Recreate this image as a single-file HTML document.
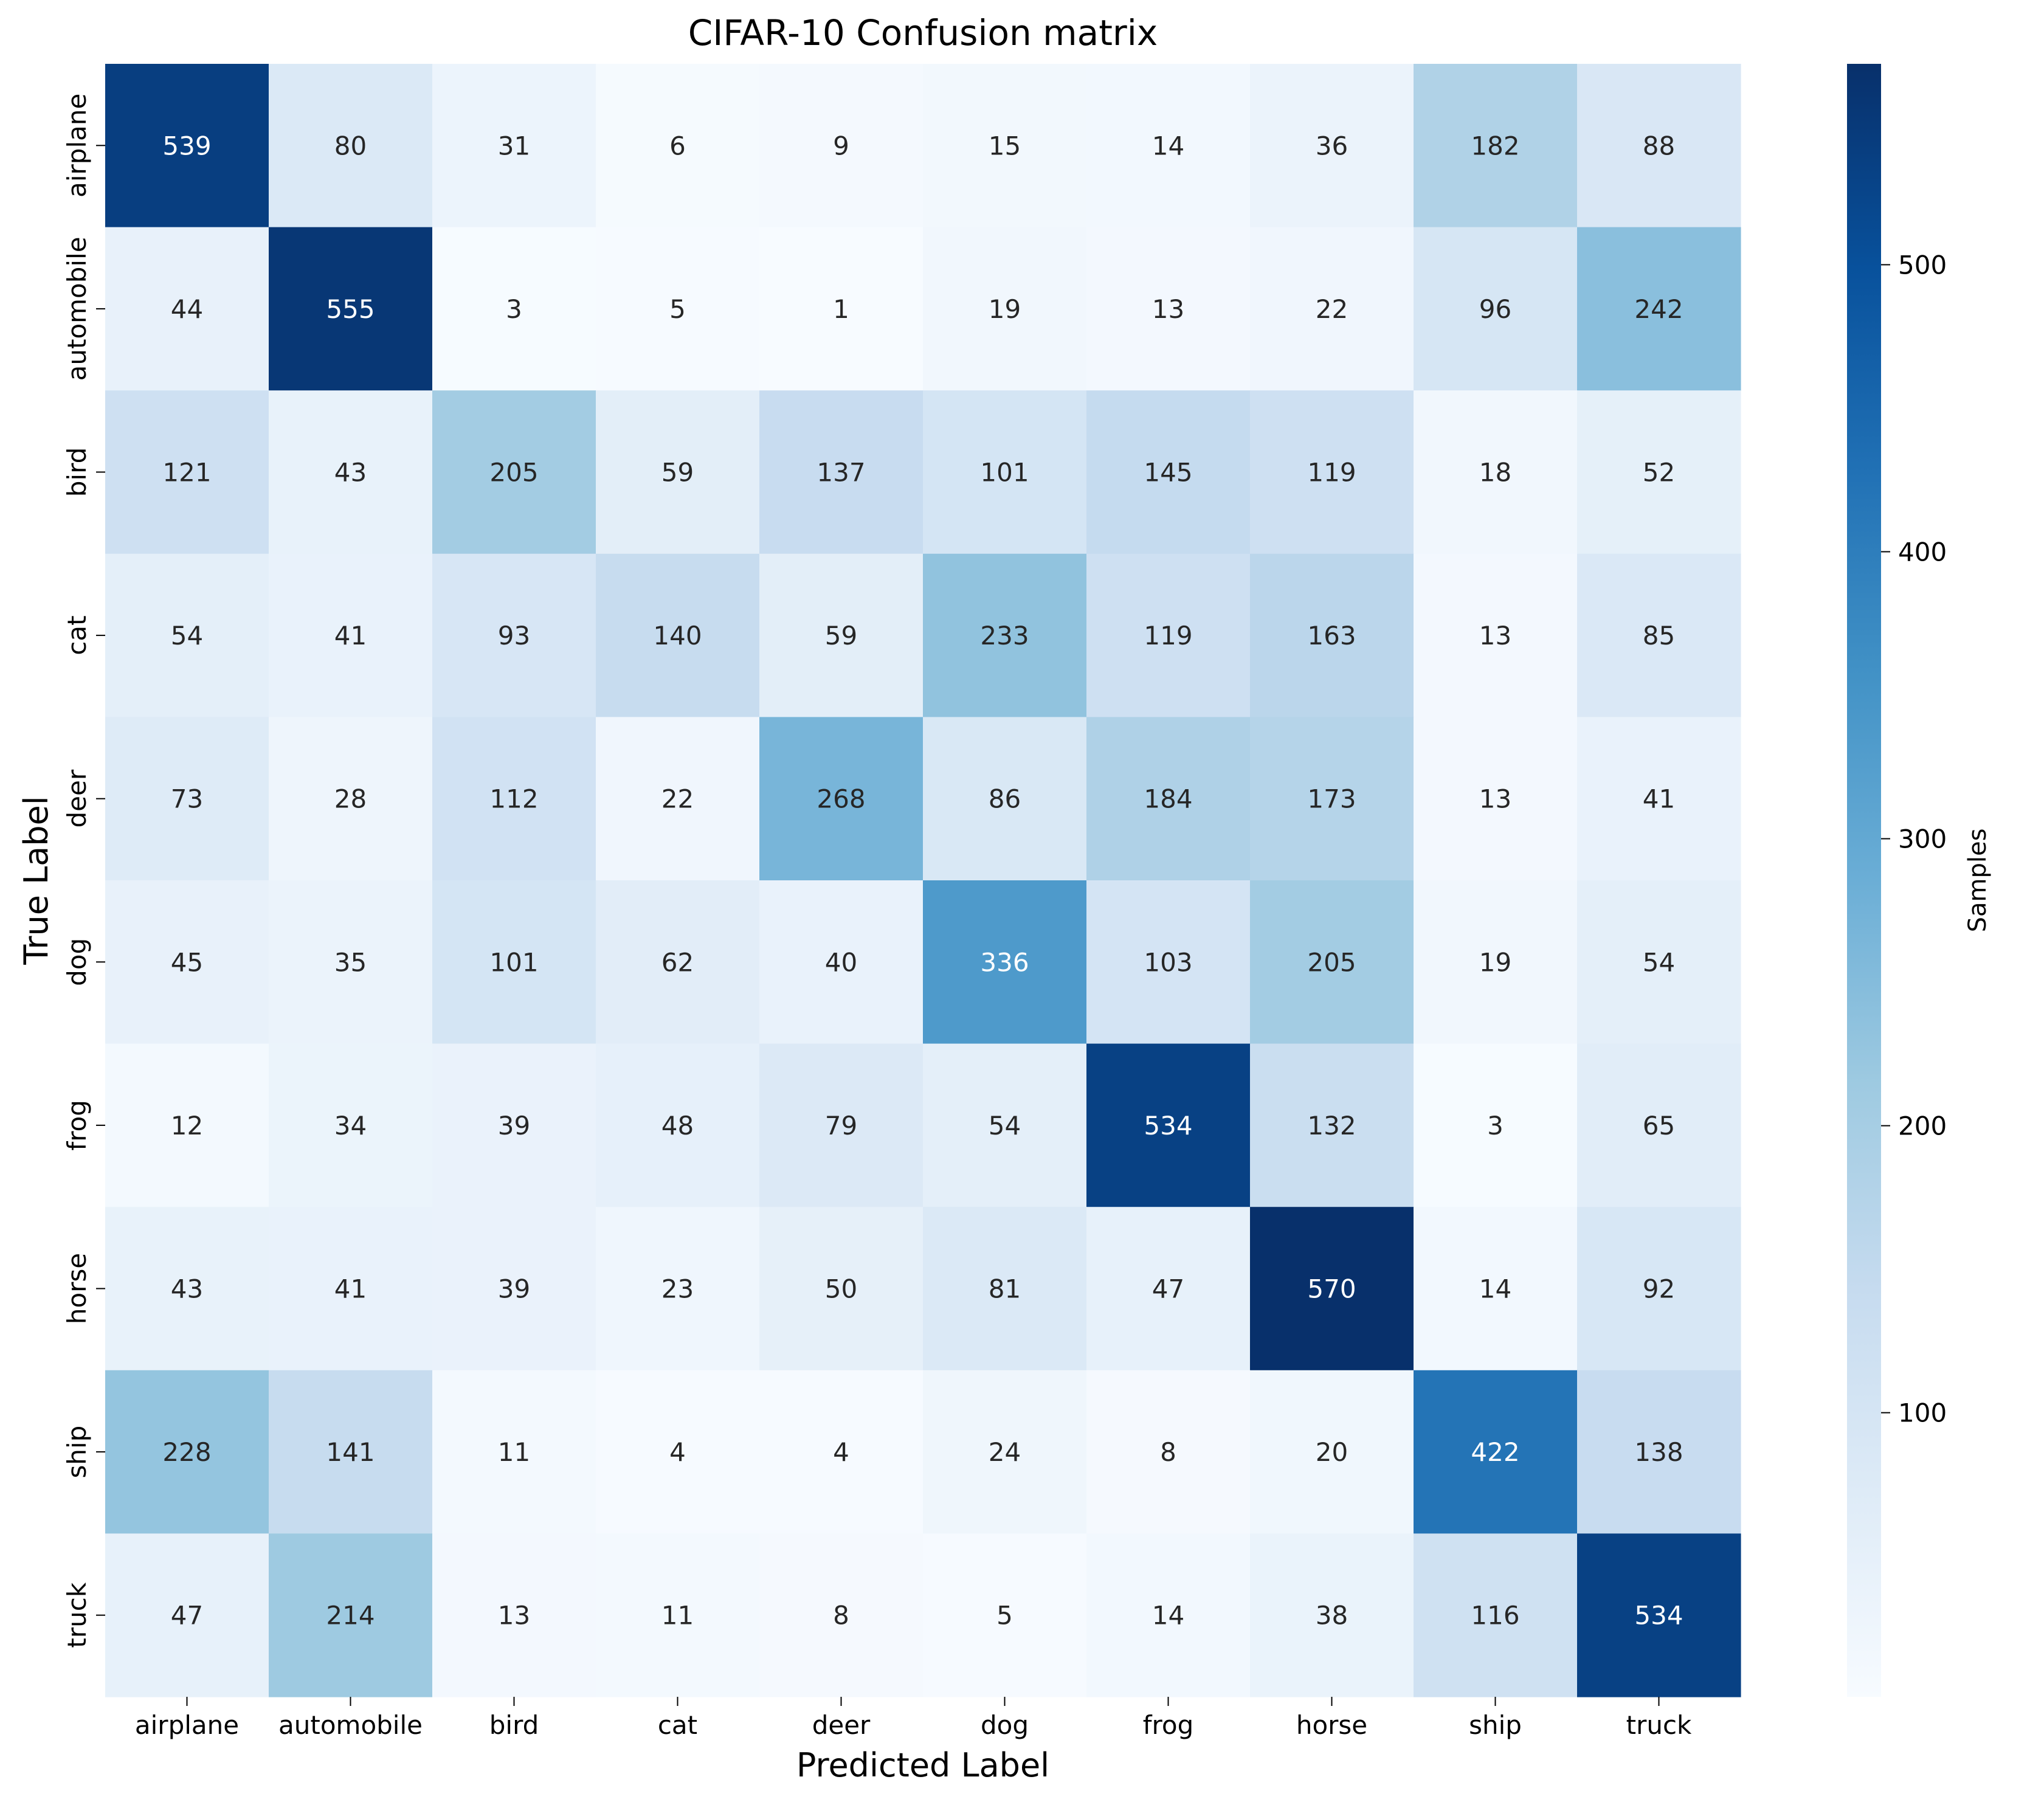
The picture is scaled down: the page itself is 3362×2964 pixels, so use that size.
<!DOCTYPE html>
<html><head><meta charset="utf-8"><style>
html,body{margin:0;padding:0;background:#fff;}
svg{display:block;font-family:"DejaVu Sans","Liberation Sans",sans-serif;}
</style></head><body>
<svg id="chart" width="3362" height="2964" viewBox="0 0 3362 2964" xmlns="http://www.w3.org/2000/svg">
<defs>
<linearGradient id="cbgrad" x1="0" y1="1" x2="0" y2="0">
<stop offset="0" stop-color="#f7fbff"/><stop offset="0.125" stop-color="#deebf7"/><stop offset="0.25" stop-color="#c6dbef"/><stop offset="0.375" stop-color="#9ecae1"/><stop offset="0.5" stop-color="#6baed6"/><stop offset="0.625" stop-color="#4292c6"/><stop offset="0.75" stop-color="#2171b5"/><stop offset="0.875" stop-color="#08519c"/><stop offset="1" stop-color="#08306b"/>
</linearGradient>
</defs>
<text x="1518" y="74" font-size="58" text-anchor="middle">CIFAR-10 Confusion matrix</text>
<g id="cells"></g>
<g id="xticks"></g>
<g id="yticks"></g>
<text x="1518" y="2922" font-size="54" text-anchor="middle">Predicted Label</text>
<text transform="translate(78,1448) rotate(-90)" font-size="54" text-anchor="middle">True Label</text>
<rect x="3038" y="105" width="56" height="2686" fill="url(#cbgrad)"/>
<g id="cbticks"></g>
<text transform="translate(3266,1448) rotate(-90)" font-size="40" text-anchor="middle">Samples</text>
</svg>
<script>
const labels = ["airplane","automobile","bird","cat","deer","dog","frog","horse","ship","truck"];
const row0 = [539,80,31,6,9,15,14,36,182,88];
const row1 = [44,555,3,5,1,19,13,22,96,242];
const row2 = [121,43,205,59,137,101,145,119,18,52];
const row3 = [54,41,93,140,59,233,119,163,13,85];
const row4 = [73,28,112,22,268,86,184,173,13,41];
const row5 = [45,35,101,62,40,336,103,205,19,54];
const row6 = [12,34,39,48,79,54,534,132,3,65];
const row7 = [43,41,39,23,50,81,47,570,14,92];
const row8 = [228,141,11,4,4,24,8,20,422,138];
const row9 = [47,214,13,11,8,5,14,38,116,534];
const matrix = [row0,row1,row2,row3,row4,row5,row6,row7,row8,row9];
const cbTicks = [100,200,300,400,500];

const NS = "http://www.w3.org/2000/svg";
const L = 173, T = 105, W = 2690, H = 2686;
const n = labels.length;
const cw = W / n, ch = H / n;
let vmin = Infinity, vmax = -Infinity;
matrix.forEach(r => r.forEach(v => { vmin = Math.min(vmin, v); vmax = Math.max(vmax, v); }));
const xPos = i => L + i * cw;
const yPos = j => T + j * ch;
const cbY = v => T + H - (v - vmin) / (vmax - vmin) * H;
const stops = [[247,251,255],[222,235,247],[198,219,239],[158,202,225],[107,174,214],[66,146,198],[33,113,181],[8,81,156],[8,48,107]];
function color(v) {
  let t = (v - vmin) / (vmax - vmin); t = Math.max(0, Math.min(1, t));
  const p = t * 8, i = Math.min(7, Math.floor(p)), f = p - i;
  return stops[i].map((a, k) => Math.round(a + (stops[i+1][k] - a) * f));
}
function lum(c) {
  const s = c.map(x => { x /= 255; return x <= 0.03928 ? x / 12.92 : Math.pow((x + 0.055) / 1.055, 2.4); });
  return 0.2126*s[0] + 0.7152*s[1] + 0.0722*s[2];
}
const cells = document.getElementById('cells');
matrix.forEach((r, j) => r.forEach((v, i) => {
  const c = color(v);
  const rect = document.createElementNS(NS, 'rect');
  rect.setAttribute('x', xPos(i)); rect.setAttribute('y', yPos(j));
  rect.setAttribute('width', cw + 0.6); rect.setAttribute('height', ch + 0.6);
  rect.setAttribute('fill', `rgb(${c.join(',')})`);
  
  
  cells.appendChild(rect);
  const t = document.createElementNS(NS, 'text');
  t.setAttribute('x', xPos(i) + cw / 2); t.setAttribute('y', yPos(j) + ch / 2 + 15);
  t.setAttribute('font-size', '42'); t.setAttribute('text-anchor', 'middle');
  t.setAttribute('fill', lum(c) > 0.408 ? '#262626' : '#ffffff');
  t.textContent = v;
  
  
  cells.appendChild(t);
}));
const xt = document.getElementById('xticks'), yt = document.getElementById('yticks');
labels.forEach((lab, i) => {
  const cx = xPos(i) + cw / 2;
  const ln = document.createElementNS(NS, 'line');
  ln.setAttribute('x1', cx); ln.setAttribute('x2', cx); ln.setAttribute('y1', T + H); ln.setAttribute('y2', T + H + 15);
  ln.setAttribute('stroke', '#000'); ln.setAttribute('stroke-width', '2');
  
  
  xt.appendChild(ln);
  const t = document.createElementNS(NS, 'text');
  t.setAttribute('x', cx); t.setAttribute('y', 2852); t.setAttribute('font-size', '42'); t.setAttribute('text-anchor', 'middle');
  t.textContent = lab;
  
  
  xt.appendChild(t);
  const cy = yPos(i) + ch / 2;
  const l2 = document.createElementNS(NS, 'line');
  l2.setAttribute('x1', L - 15); l2.setAttribute('x2', L); l2.setAttribute('y1', cy); l2.setAttribute('y2', cy);
  l2.setAttribute('stroke', '#000'); l2.setAttribute('stroke-width', '2');
  
  
  yt.appendChild(l2);
  const t2 = document.createElementNS(NS, 'text');
  t2.setAttribute('transform', `translate(${L - 32},${cy}) rotate(-90)`);
  t2.setAttribute('font-size', '42'); t2.setAttribute('text-anchor', 'middle');
  t2.textContent = lab;
  
  
  yt.appendChild(t2);
});
const cbt = document.getElementById('cbticks');
cbTicks.forEach(v => {
  const y = cbY(v);
  const ln = document.createElementNS(NS, 'line');
  ln.setAttribute('x1', 3094); ln.setAttribute('x2', 3109); ln.setAttribute('y1', y); ln.setAttribute('y2', y);
  ln.setAttribute('stroke', '#000'); ln.setAttribute('stroke-width', '2');
  
  
  cbt.appendChild(ln);
  const t = document.createElementNS(NS, 'text');
  t.setAttribute('x', 3122); t.setAttribute('y', y + 15); t.setAttribute('font-size', '42');
  t.textContent = v;
  
  
  cbt.appendChild(t);
});
</script>
</body></html>
